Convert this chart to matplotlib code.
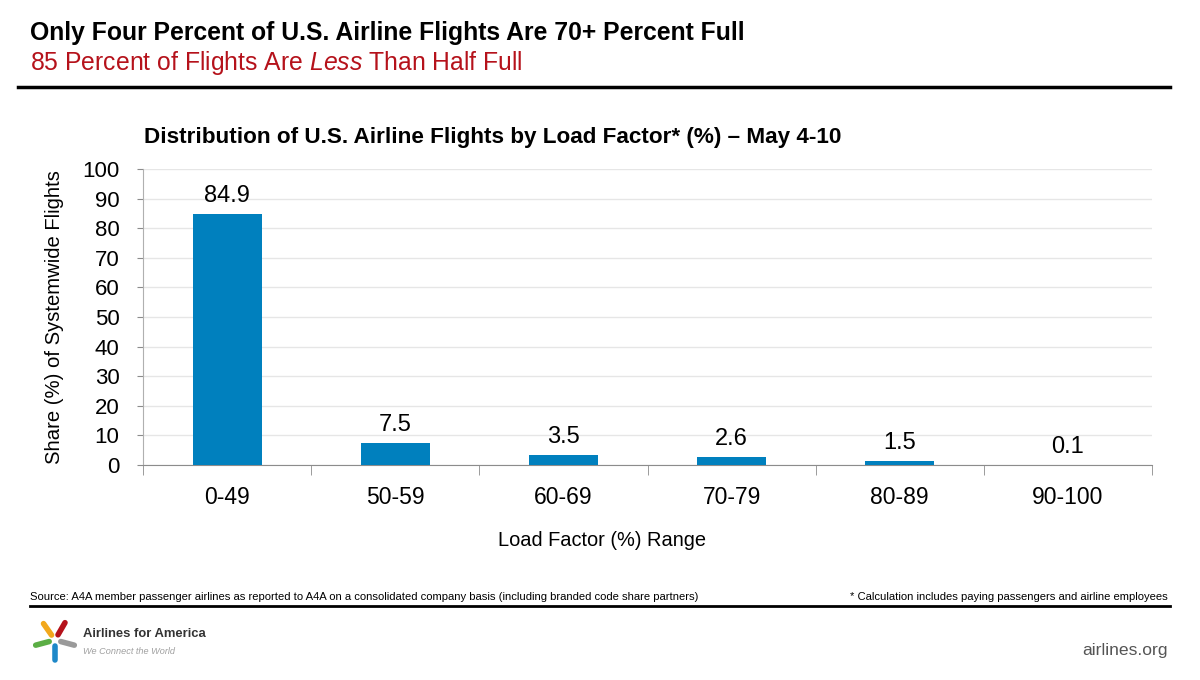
import numpy as np
import matplotlib
matplotlib.use("Agg")
import matplotlib.pyplot as plt
from matplotlib.lines import Line2D

plt.rcParams['font.family'] = ['Liberation Sans', 'DejaVu Sans']
plt.rcParams['mathtext.fontset'] = 'custom'
plt.rcParams['mathtext.rm'] = 'Liberation Sans'
plt.rcParams['mathtext.it'] = 'Liberation Sans:italic'

# data
categories = ['0-49', '50-59', '60-69', '70-79', '80-89', '90-100']
shares = [84.9, 7.5, 3.5, 2.6, 1.5, 0.1]
y_ticks = [0, 10, 20, 30, 40, 50, 60, 70, 80, 90, 100]

bar_color = '#0080BE'
grid_color = '#E6E6E6'
axis_color = '#8C8C8C'

fig = plt.figure(figsize=(12, 6.8), dpi=100)
W, H = 1200, 680

def fx(px):
    return px / W

def fy(py):
    return 1 - py / H

# header
fig.text(fx(30), fy(33), 'Only Four Percent of U.S. Airline Flights Are 70+ Percent Full',
         fontsize=17.8, fontweight='bold', color='black', va='center', ha='left')
fig.text(fx(30), fy(63), r'85 Percent of Flights Are $\mathit{Less}$ Than Half Full',
         fontsize=17.8, color='#B5121B', va='center', ha='left')
fig.add_artist(Line2D([fx(18), fx(1170)], [fy(87), fy(87)], color='black', lw=2.5))

# chart
ax = fig.add_axes([fx(143), fy(465), fx(1152) - fx(143), fy(169) - fy(465)])
x = np.arange(len(categories))
ax.bar(x, shares, width=0.41, color=bar_color, zorder=3)
for xi, v in zip(x, shares):
    ax.text(xi, v + 2.3, f'{v:.1f}', ha='center', va='bottom', fontsize=17, color='black')

ax.set_xlim(-0.5, len(categories) - 0.5)
ax.set_ylim(0, 100)
ax.set_yticks(y_ticks)
ax.set_yticklabels([str(t) for t in y_ticks], fontsize=16)
ax.yaxis.grid(True, color=grid_color, lw=1, zorder=0)
ax.tick_params(axis='y', length=4, color=axis_color, pad=13)

ax.set_xticks(x)
ax.set_xticklabels(categories, fontsize=16.5)
ax.set_xticks(np.arange(-0.5, len(categories)), minor=True)
ax.tick_params(axis='x', which='major', length=0, pad=15)
ax.tick_params(axis='x', which='minor', length=7, color=axis_color)

for side in ['top', 'right']:
    ax.spines[side].set_visible(False)
ax.spines['left'].set_color('#B0B0B0')
ax.spines['bottom'].set_color(axis_color)

fig.text(fx(144), fy(138), 'Distribution of U.S. Airline Flights by Load Factor* (%) \u2013 May 4-10',
         fontsize=16.2, fontweight='bold', va='center', ha='left')

fig.text(fx(55), fy(317), 'Share (%) of Systemwide Flights', rotation=90,
         fontsize=14.6, va='center', ha='center')
fig.text(fx(602), fy(540), 'Load Factor (%) Range', fontsize=14.4, va='center', ha='center')

# footer
fig.text(fx(30), fy(597), 'Source: A4A member passenger airlines as reported to A4A on a consolidated company basis (including branded code share partners)',
         fontsize=8.1, va='center', ha='left')
fig.text(fx(1168), fy(597), '* Calculation includes paying passengers and airline employees',
         fontsize=8.1, va='center', ha='right')
fig.add_artist(Line2D([fx(30), fx(1170)], [fy(606), fy(606)], color='black', lw=2))

# logo approximation
cx, cy = 55, 640
arms = [(125, '#F2A81D'), (60, '#B5121B'), (195, '#5BAE45'), (-15, '#9A9A9A'), (270, '#1E88C8')]
for ang, col in arms:
    a = np.deg2rad(ang)
    x0, y0 = cx + 6 * np.cos(a), cy - 6 * np.sin(a)
    x1, y1 = cx + 20 * np.cos(a), cy - 20 * np.sin(a)
    fig.add_artist(Line2D([fx(x0), fx(x1)], [fy(y0), fy(y1)], color=col, lw=4,
                          solid_capstyle='round'))
fig.text(fx(83), fy(634), 'Airlines for America', fontsize=9.4, fontweight='bold',
         color='#333333', va='center', ha='left')
fig.text(fx(83), fy(652), 'We Connect the World', fontsize=6.6, style='italic',
         color='#A0A0A0', va='center', ha='left')
fig.text(fx(1168), fy(651), 'airlines.org', fontsize=12.6, color='#555555', va='center', ha='right')

fig.savefig('out.png', dpi=100)
